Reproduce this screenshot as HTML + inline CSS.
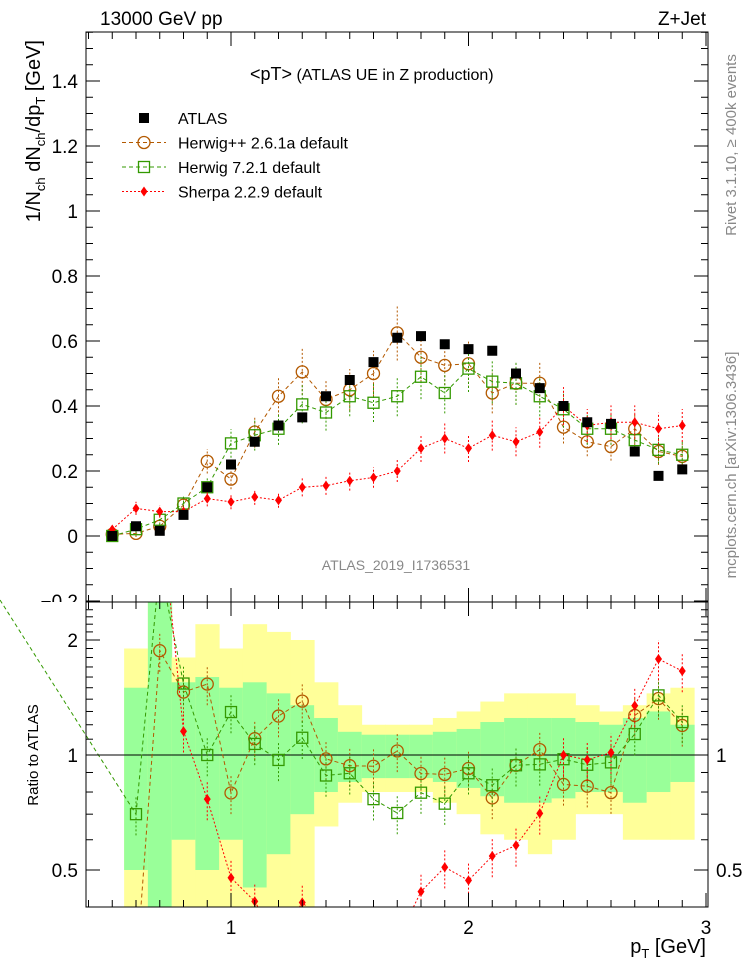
<!DOCTYPE html>
<html><head><meta charset="utf-8"><style>
body{margin:0;background:#fff;}
svg text{font-family:"Liberation Sans",sans-serif;}
</style></head><body>
<svg id="c" width="746" height="972" xmlns="http://www.w3.org/2000/svg"></svg>
<script>
const xs=[0.5,0.6,0.7,0.8,0.9,1.0,1.1,1.2,1.3,1.4,1.5,1.6,1.7,1.8,1.9,2.0,2.1,2.2,2.3,2.4,2.5,2.6,2.7,2.8,2.9];
const atlas=[0.0,0.03,0.016,0.065,0.15,0.22,0.29,0.34,0.365,0.43,0.48,0.535,0.61,0.615,0.59,0.575,0.57,0.50,0.455,0.40,0.35,0.345,0.26,0.185,0.205];
const herwigpp=[0.005,0.008,0.03,0.095,0.23,0.175,0.32,0.43,0.505,0.42,0.45,0.50,0.625,0.55,0.525,0.53,0.44,0.47,0.47,0.335,0.29,0.275,0.33,0.26,0.245];
const herwig7=[0.0,0.021,0.05,0.10,0.15,0.285,0.31,0.33,0.405,0.38,0.43,0.41,0.43,0.49,0.44,0.515,0.475,0.47,0.43,0.39,0.33,0.33,0.295,0.265,0.25];
const sherpa=[0.02,0.085,0.075,0.075,0.115,0.105,0.12,0.11,0.15,0.155,0.17,0.18,0.20,0.27,0.30,0.27,0.31,0.29,0.32,0.40,0.34,0.35,0.35,0.33,0.34];
const greenLo=[0.3,0.5,0.35,0.6,0.5,0.6,0.45,0.55,0.7,0.8,0.85,0.87,0.87,0.87,0.85,0.82,0.78,0.75,0.75,0.77,0.8,0.8,0.75,0.8,0.85];
const greenHi=[3,1.5,2.55,1.55,1.6,1.5,1.55,1.45,1.35,1.25,1.15,1.13,1.13,1.13,1.15,1.17,1.22,1.25,1.25,1.25,1.22,1.2,1.25,1.3,1.2];
const yelLo=[0.3,0.3,0.35,0.35,0.35,0.4,0.35,0.35,0.35,0.65,0.75,0.8,0.8,0.8,0.75,0.7,0.62,0.6,0.55,0.6,0.7,0.7,0.6,0.6,0.6];
const yelHi=[3,1.9,2.55,1.8,2.2,1.9,2.2,2.1,2.0,1.55,1.35,1.2,1.2,1.2,1.25,1.3,1.38,1.45,1.45,1.45,1.35,1.3,1.35,1.45,1.5];
const yTicks=[-0.2,0,0.2,0.4,0.6,0.8,1,1.2,1.4];
const xTicks=[1,2,3];

const svg=document.getElementById('c');const NS="http://www.w3.org/2000/svg";
function el(t,a,p){const e=document.createElementNS(NS,t);for(const k in a)e.setAttribute(k,a[k]);(p||svg).appendChild(e);return e;}
const L=86,R=708,T=32,MB=602,RB=907;
const X=v=>231+(v-1)*237.5;
const Y=v=>536-v*325;
const RY=v=>755-Math.log2(v)*115;
const defs=el('defs',{});
const c1=el('clipPath',{id:'cm'},defs);el('rect',{x:L,y:T,width:R-L,height:MB-T},c1);
const c2=el('clipPath',{id:'cr'},defs);el('rect',{x:L,y:MB,width:R-L,height:RB-MB},c2);
const c3=el('clipPath',{id:'ct'},defs);el('rect',{x:0,y:0,width:86,height:MB},c3);
const gm=el('g',{'clip-path':'url(#cm)'});
const gr=el('g',{'clip-path':'url(#cr)'});
xs.forEach((x,i)=>{
 if(atlas[i]<=0)return;
 const r1=el('rect',{x:X(x-0.05),y:RY(yelHi[i]),width:X(x+0.05)-X(x-0.05)+0.5,height:RY(yelLo[i])-RY(yelHi[i]),fill:'#ffff99'},gr);
 
 const r2=el('rect',{x:X(x-0.05),y:RY(greenHi[i]),width:X(x+0.05)-X(x-0.05)+0.5,height:RY(greenLo[i])-RY(greenHi[i]),fill:'#99ff99'},gr);
 
});
el('line',{x1:L,x2:R,y1:RY(1),y2:RY(1),stroke:'#000','stroke-width':1},gr);
const series=[
 {d:herwigpp,c:'#b35900',dash:'4,3',m:'circle',n:'herwigpp'},
 {d:herwig7,c:'#339900',dash:'4,3',m:'square',n:'herwig7'},
 {d:sherpa,c:'#ff0000',dash:'2,2',m:'diamond',n:'sherpa'}];
function marker(g,type,x,y,c){
 let e;
 if(type==='circle')e=el('circle',{cx:x,cy:y,r:6,fill:'none',stroke:c,'stroke-width':1.3},g);
 else if(type==='square')e=el('rect',{x:x-5.5,y:y-5.5,width:11,height:11,fill:'none',stroke:c,'stroke-width':1.3},g);
 else if(type==='diamond')e=el('path',{d:`M${x} ${y-5}L${x+3.5} ${y}L${x} ${y+5}L${x-3.5} ${y}Z`,fill:c},g);
 else e=el('rect',{x:x-5,y:y-5,width:10,height:10,fill:'#000'},g);
 return e;
}
series.forEach(s=>{
 const pts=xs.map((x,i)=>X(x)+','+Y(s.d[i])).join(' ');
 const pl=el('polyline',{points:pts,fill:'none',stroke:s.c,'stroke-dasharray':s.dash,'stroke-width':1},gm);
 
 const rv=xs.map((x,i)=>atlas[i]>0?s.d[i]/atlas[i]:null);
 const rpts=xs.map((x,i)=>rv[i]!==null?X(x)+','+RY(rv[i]):null).filter(p=>p);
 const rp=el('polyline',{points:rpts.join(' '),fill:'none',stroke:s.c,'stroke-dasharray':s.dash,'stroke-width':1},gr);
 
 xs.forEach((x,i)=>{
  const e=s.d[i]*0.12+0.01;
  el('line',{x1:X(x),x2:X(x),y1:Y(s.d[i]-e),y2:Y(s.d[i]+e),stroke:s.c,'stroke-dasharray':'2,2'},gm);
  const m=marker(gm,s.m,X(x),Y(s.d[i]),s.c);
  const r=rv[i];
  if(r!==null){el('line',{x1:X(x),x2:X(x),y1:RY(r*0.88),y2:RY(r*1.12),stroke:s.c,'stroke-dasharray':'2,2'},gr);
  const m2=marker(gr,s.m,X(x),RY(r),s.c);}
 });
});
el('line',{x1:0,y1:600,x2:X(0.6),y2:RY(herwig7[1]/atlas[1]),stroke:'#339900','stroke-dasharray':'4,3'});
xs.forEach((x,i)=>{const m=marker(gm,'sq',X(x),Y(atlas[i]),'#000');});
[[T,MB],[MB,RB]].forEach(([a,b])=>el('rect',{x:L,y:a,width:R-L,height:b-a,fill:'none',stroke:'#000','stroke-width':1}));
for(let v=0.4;v<=3.001;v+=0.1){const x=X(v);const maj=Math.abs(v-Math.round(v))<0.01;const h=maj?14:7;
 [[MB,-1],[T,1],[RB,-1],[MB,1]].forEach(([y,d])=>el('line',{x1:x,x2:x,y1:y,y2:y+d*h,stroke:'#000'}));}
xTicks.forEach(v=>{const t=el('text',{x:X(v),y:934,'font-size':19,'text-anchor':'middle'});t.textContent=v;});
for(let v=-0.2;v<=1.551;v+=0.05){const y=Y(v);if(y<T||y>MB)continue;const maj=Math.abs(v*5-Math.round(v*5))<0.01;const h=maj?14:7;
 el('line',{x1:L,x2:L+h,y1:y,y2:y,stroke:'#000'});el('line',{x1:R,x2:R-h,y1:y,y2:y,stroke:'#000'});}
const gyl=el('g',{'clip-path':'url(#ct)'});
yTicks.forEach(v=>{const t=el('text',{x:78,y:Y(v)+7,'font-size':19,'text-anchor':'end'},gyl);t.textContent=v===-0.2?'−0.2':v;});
for(let v=0.4;v<=2.5;v+=0.1){const y=RY(v);if(y<MB||y>RB)continue;const maj=[0.5,1,2].some(m=>Math.abs(m-v)<0.01);const h=maj?14:7;
 el('line',{x1:L,x2:L+h,y1:y,y2:y,stroke:'#000'});el('line',{x1:R,x2:R-h,y1:y,y2:y,stroke:'#000'});}
[[2,'2'],[1,'1'],[0.5,'0.5']].forEach(([v,s])=>{const t=el('text',{x:78,y:RY(v)+7,'font-size':19,'text-anchor':'end'});t.textContent=s;});
[[1,'1'],[0.5,'0.5']].forEach(([v,s])=>{const t=el('text',{x:716,y:RY(v)+7,'font-size':19});t.textContent=s;});
function txt(x,y,s,a,name){const t=el('text',Object.assign({x,y},a));t.textContent=s;return t;}
txt(100,25,'13000 GeV pp',{'font-size':19},'beam-label');
txt(706,25,'Z+Jet',{'font-size':19,'text-anchor':'end'},'process-label');
const tt=el('text',{x:250,y:80,'font-size':16,'xml:space':'preserve'});tt.innerHTML='<tspan font-size="18">&lt;pT&gt;</tspan>  (ATLAS UE in Z production)';

txt(396,570,'ATLAS_2019_I1736531',{'font-size':14,'fill':'#888','text-anchor':'middle'},'analysis-id');
const yt=el('text',{transform:'translate(40,40) rotate(-90)','font-size':20,'text-anchor':'end'});
yt.innerHTML='1/N<tspan font-size="13" dy="5">ch</tspan><tspan dy="-5"> dN</tspan><tspan font-size="13" dy="5">ch</tspan><tspan dy="-5">/dp</tspan><tspan font-size="13" dy="5">T</tspan><tspan dy="-5"> [GeV]</tspan>';

txt(0,0,'Ratio to ATLAS',{transform:'translate(38,755) rotate(-90)','font-size':15,'text-anchor':'middle'},'ratio-axis-title');
const xt=el('text',{x:706,y:953,'font-size':20,'text-anchor':'end'});
xt.innerHTML='p<tspan font-size="13" dy="5">T</tspan><tspan dy="-5"> [GeV]</tspan>';

txt(0,0,'Rivet 3.1.10, ≥ 400k events',{transform:'translate(736,145) rotate(-90)','font-size':15,'fill':'#888','text-anchor':'middle'},'rivet-label');
txt(0,0,'mcplots.cern.ch [arXiv:1306.3436]',{transform:'translate(736,465) rotate(-90)','font-size':15,'fill':'#888','text-anchor':'middle'},'mcplots-label');
const lg=el('g',{});
const leg=[['ATLAS','sq','#000',null],['Herwig++ 2.6.1a default','circle','#b35900','4,3'],['Herwig 7.2.1 default','square','#339900','4,3'],['Sherpa 2.2.9 default','diamond','#ff0000','2,2']];
leg.forEach((l,i)=>{const y=118+i*24.5;
 if(l[3])el('line',{x1:122,x2:166,y1:y,y2:y,stroke:l[2],'stroke-dasharray':l[3]},lg);
 marker(lg,l[1],144,y,l[2]);
 const t=el('text',{x:178,y:y+6,'font-size':16},lg);t.textContent=l[0];});
</script>
</body></html>
